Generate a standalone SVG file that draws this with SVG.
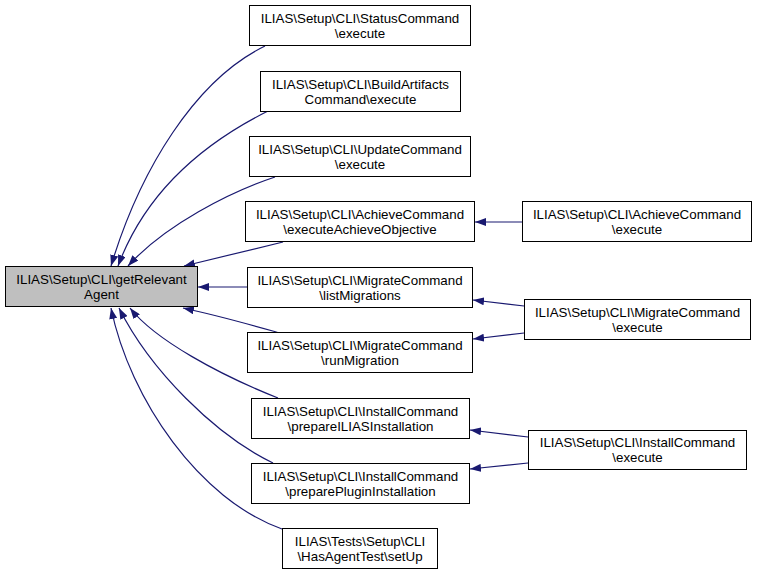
<svg xmlns="http://www.w3.org/2000/svg" width="757" height="575" viewBox="0 0 757 575">
<defs>
<marker id="arr" markerUnits="userSpaceOnUse" viewBox="0 0 11 8" refX="11" refY="4" markerWidth="11" markerHeight="8" orient="auto">
<polygon points="0,0 11,4 0,8" fill="#191970"/>
</marker>
</defs>
<style>
rect{fill:#fff;stroke:#000;stroke-width:1}
#main rect{fill:#bfbfbf}
text{font-family:"Liberation Sans",Arial,sans-serif;font-size:13.33px;text-anchor:middle;fill:#000}
#edges path{fill:none;stroke:#191970;stroke-width:1.2;marker-end:url(#arr)}
</style>
<rect x="0" y="0" width="757" height="575" style="fill:#fff;stroke:none"/>
<g id="edges">
<path d="M265,46 C195,80 140,170 111,266"/>
<path d="M268,111 C220,135 150,180 118,266"/>
<path d="M275,177 C230,192 165,225 128,266"/>
<path d="M283,242 C255,249 220,257 184,266"/>
<path d="M247,287 L198,287"/>
<path d="M280,333 C255,326 220,316 183,308"/>
<path d="M278,398 C220,375 155,340 130,308"/>
<path d="M273,463 C215,435 150,370 119,308"/>
<path d="M282,529 C200,500 130,400 111,308"/>
<path d="M522,222 L475,222"/>
<path d="M524,306 L473,300"/>
<path d="M524,333 L473,339"/>
<path d="M528,437 L470,430"/>
<path d="M528,463 L470,469"/>
</g>
<g id="main"><rect x="5.5" y="266.5" width="192" height="40"/><text x="101.5" y="283.5">ILIAS\Setup\CLI\getRelevant</text><text x="101.5" y="298.5">Agent</text></g>
<g id="status"><rect x="249.5" y="5.5" width="221" height="40"/><text x="360" y="22.5">ILIAS\Setup\CLI\StatusCommand</text><text x="360" y="37.5">\execute</text></g>
<g id="build"><rect x="260.5" y="71.5" width="200" height="40"/><text x="360.5" y="88.5">ILIAS\Setup\CLI\BuildArtifacts</text><text x="360.5" y="103.5">Command\execute</text></g>
<g id="update"><rect x="249.5" y="136.5" width="221" height="40"/><text x="360" y="153.5">ILIAS\Setup\CLI\UpdateCommand</text><text x="360" y="168.5">\execute</text></g>
<g id="achieveobj"><rect x="245.5" y="201.5" width="229" height="40"/><text x="360" y="218.5">ILIAS\Setup\CLI\AchieveCommand</text><text x="360" y="233.5">\executeAchieveObjective</text></g>
<g id="listmig"><rect x="247.5" y="267.5" width="225" height="40"/><text x="360" y="284.5">ILIAS\Setup\CLI\MigrateCommand</text><text x="360" y="299.5">\listMigrations</text></g>
<g id="runmig"><rect x="247.5" y="332.5" width="225" height="40"/><text x="360" y="349.5">ILIAS\Setup\CLI\MigrateCommand</text><text x="360" y="364.5">\runMigration</text></g>
<g id="prepilias"><rect x="251.5" y="398.5" width="218" height="40"/><text x="360.5" y="415.5">ILIAS\Setup\CLI\InstallCommand</text><text x="360.5" y="430.5">\prepareILIASInstallation</text></g>
<g id="prepplugin"><rect x="251.5" y="463.5" width="218" height="40"/><text x="360.5" y="480.5">ILIAS\Setup\CLI\InstallCommand</text><text x="360.5" y="495.5">\preparePluginInstallation</text></g>
<g id="hasagent"><rect x="282.5" y="528.5" width="155" height="40"/><text x="360" y="545.5">ILIAS\Tests\Setup\CLI</text><text x="360" y="560.5">\HasAgentTest\setUp</text></g>
<g id="achieveexec"><rect x="522.5" y="201.5" width="229" height="40"/><text x="637" y="218.5">ILIAS\Setup\CLI\AchieveCommand</text><text x="637" y="233.5">\execute</text></g>
<g id="migrateexec"><rect x="524.5" y="299.5" width="226" height="40"/><text x="637.5" y="316.5">ILIAS\Setup\CLI\MigrateCommand</text><text x="637.5" y="331.5">\execute</text></g>
<g id="installexec"><rect x="528.5" y="430.5" width="218" height="39"/><text x="637.5" y="447">ILIAS\Setup\CLI\InstallCommand</text><text x="637.5" y="462">\execute</text></g>
</svg>
